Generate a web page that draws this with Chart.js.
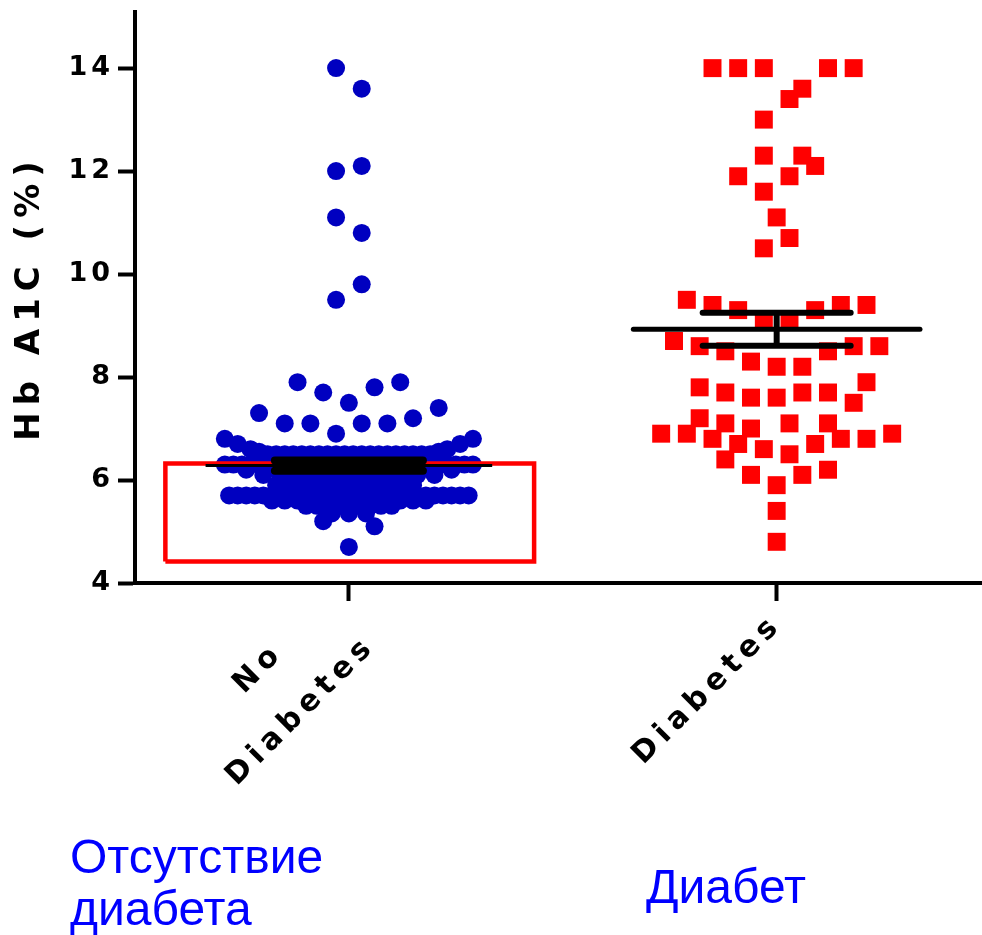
<!DOCTYPE html>
<html>
<head>
<meta charset="utf-8">
<script src="https://cdn.jsdelivr.net/npm/chart.js@4.4.1/dist/chart.umd.min.js"></script>
<style>
html,body{margin:0;padding:0;background:#fff;width:982px;height:935px;overflow:hidden}
#wrap{position:relative;width:982px;height:935px}
#c{position:absolute;left:0;top:0}
.cap{position:absolute;font-family:"Liberation Sans",Arial,sans-serif;font-size:48px;line-height:52px;color:#0000FF;white-space:nowrap}
</style>
</head>
<body>
<div id="wrap"><canvas id="c" width="982" height="935"></canvas></div>
<script>
// ---------- data ----------
const categories = [["No", "Diabetes"], ["Diabetes"]];
const categoryPositions = [1, 2];
const yTicks = [4, 6, 8, 10, 12, 14];
const yTitle = "Hb A1C (%)";
const captions = [["Отсутствие", "диабета"], ["Диабет"]];

// No diabetes: isolated points [offset from category, HbA1c]
const noDiabetesScattered = [
  [-0.03, 14.0], [0.03, 13.6], [-0.03, 12.0], [0.03, 12.1], [-0.03, 11.1], [0.03, 10.8], [0.03, 9.8], [-0.03, 9.5],
  [-0.12, 7.9], [-0.06, 7.7], [0, 7.5], [0.06, 7.8], [0.12, 7.9],
  [-0.21, 7.3], [-0.15, 7.1], [-0.09, 7.1], [-0.03, 6.9], [0.03, 7.1], [0.09, 7.1], [0.15, 7.2], [0.21, 7.4],
  [-0.29, 6.8], [0.29, 6.8], [-0.26, 6.7], [0.26, 6.7], [-0.23, 6.6], [0.23, 6.6], [-0.21, 6.55], [0.21, 6.55],
  [-0.06, 5.2], [0.06, 5.1], [0, 4.7]
];
// No diabetes: dense swarm rows [HbA1c, offsets]
const noDiabetesRows = [
  [6.5, [-0.19,-0.17,-0.15,-0.13,-0.11,-0.09,-0.07,-0.05,-0.03,-0.01,0.01,0.03,0.05,0.07,0.09,0.11,0.13,0.15,0.17,0.19]],
  [6.4, [-0.15,-0.12,-0.09,-0.06,-0.03,0,0.03,0.06,0.09,0.12,0.15]],
  [6.3, [-0.29,-0.27,-0.25,-0.23,-0.21,-0.19,-0.17,-0.15,-0.13,-0.11,-0.09,-0.07,-0.05,-0.03,-0.01,0.01,0.03,0.05,0.07,0.09,0.11,0.13,0.15,0.17,0.19,0.21,0.23,0.25,0.27,0.29]],
  [6.2, [-0.24,-0.2,-0.16,-0.12,-0.08,-0.04,0,0.04,0.08,0.12,0.16,0.2,0.24]],
  [6.1, [-0.2,-0.16,-0.12,-0.08,-0.04,0,0.04,0.08,0.12,0.16,0.2]],
  [6.0, [-0.15,-0.11,-0.07,-0.03,0.01,0.05,0.09,0.13]],
  [5.9, [-0.17,-0.13,-0.09,-0.05,-0.01,0.03,0.07,0.11,0.15]],
  [5.7, [-0.28,-0.26,-0.24,-0.22,-0.2,-0.18,-0.16,-0.14,-0.12,-0.1,-0.08,-0.06,-0.04,-0.02,0,0.02,0.04,0.06,0.08,0.1,0.12,0.14,0.16,0.18,0.2,0.22,0.24,0.26,0.28]],
  [5.6, [-0.18,-0.15,-0.12,-0.09,-0.06,-0.03,0,0.03,0.06,0.09,0.12,0.15,0.18]],
  [5.5, [-0.1,-0.075,-0.05,-0.025,0,0.025,0.05,0.075,0.1]],
  [5.35, [-0.04,0,0.04]]
];
// Diabetes points [offset from category, HbA1c]
const diabetesPoints = [
  [-0.15, 14], [-0.09, 14], [-0.03, 14], [0.12, 14], [0.18, 14], [0.06, 13.6], [0.03, 13.4], [-0.03, 13.0],
  [-0.03, 12.3], [0.06, 12.3], [0.09, 12.1], [-0.09, 11.9], [0.03, 11.9], [-0.03, 11.6], [0, 11.1], [0.03, 10.7], [-0.03, 10.5],
  [-0.21, 9.5], [-0.15, 9.4], [-0.09, 9.3], [-0.03, 9.1], [0.03, 9.1], [0.09, 9.3], [0.15, 9.4], [0.21, 9.4],
  [-0.24, 8.7], [-0.18, 8.6], [-0.12, 8.5], [0.12, 8.5], [0.18, 8.6], [0.24, 8.6], [-0.06, 8.3], [0, 8.2], [0.06, 8.2],
  [-0.18, 7.8], [-0.12, 7.7], [-0.06, 7.6], [0, 7.6], [0.06, 7.7], [0.12, 7.7], [0.21, 7.9], [0.18, 7.5],
  [-0.18, 7.2], [-0.12, 7.1], [-0.06, 7.0], [0.03, 7.1], [0.12, 7.1],
  [-0.27, 6.9], [-0.21, 6.9], [-0.15, 6.8], [-0.09, 6.7], [-0.03, 6.6], [0.03, 6.5], [0.09, 6.7], [0.15, 6.8], [0.21, 6.8], [0.27, 6.9],
  [-0.12, 6.4], [-0.06, 6.1], [0, 5.9], [0.06, 6.1], [0.12, 6.2], [0, 5.4], [0, 4.8]
];
// mean and SEM [mean, upper, lower]
const noDiabetesStats = [6.28, 6.38, 6.18];
const diabetesStats = [8.93, 9.25, 8.61];
// highlight box (x range in category units, y range)
const boxX = [0.571, 1.433];
const boxY = [4.42, 6.32];

// ---------- build ----------
const c0 = categoryPositions[0], c1 = categoryPositions[1];
const blueData = noDiabetesScattered.map(p => ({x: c0 + p[0], y: p[1]}));
noDiabetesRows.forEach(r => r[1].forEach(o => blueData.push({x: c0 + o, y: r[0]})));
const redData = diabetesPoints.map(p => ({x: c1 + p[0], y: p[1]}));

function seg(x1, y1, x2, y2, w, color, cap, order) {
  return {type: 'scatter', showLine: true, data: [{x: x1, y: y1}, {x: x2, y: y2}],
    borderColor: color, borderWidth: w, borderCapStyle: cap, pointRadius: 0, pointHoverRadius: 0,
    order: order, clip: false};
}
const MW = 0.335, SW = 0.173;
const datasets = [
  seg(c0 - MW, noDiabetesStats[0], c0 + MW, noDiabetesStats[0], 3, '#000', 'butt', 0),
  seg(c0 - SW, noDiabetesStats[1], c0 + SW, noDiabetesStats[1], 8, '#000', 'round', 0),
  seg(c0 - SW, noDiabetesStats[2], c0 + SW, noDiabetesStats[2], 8, '#000', 'round', 0),
  seg(c0, noDiabetesStats[2], c0, noDiabetesStats[1], 6, '#000', 'butt', 0),
  seg(c1 - MW, diabetesStats[0], c1 + MW, diabetesStats[0], 5, '#000', 'round', 0),
  seg(c1 - SW, diabetesStats[1], c1 + SW, diabetesStats[1], 6, '#000', 'round', 0),
  seg(c1 - SW, diabetesStats[2], c1 + SW, diabetesStats[2], 6, '#000', 'round', 0),
  seg(c1, diabetesStats[2], c1, diabetesStats[1], 6, '#000', 'butt', 0),
  {type: 'scatter', showLine: true, order: 1, clip: false,
    data: [{x: boxX[0], y: boxY[0]}, {x: boxX[1], y: boxY[0]}, {x: boxX[1], y: boxY[1]}, {x: boxX[0], y: boxY[1]}, {x: boxX[0], y: boxY[0]}],
    borderColor: '#FF0000', borderWidth: 4.5, borderJoinStyle: 'miter', pointRadius: 0, pointHoverRadius: 0},
  {type: 'scatter', label: 'No Diabetes', data: blueData, order: 2, clip: false,
    pointStyle: 'circle', pointRadius: 9, pointHoverRadius: 9, pointBorderWidth: 0,
    pointBackgroundColor: '#0000C0', borderColor: '#0000C0', backgroundColor: '#0000C0'},
  {type: 'scatter', label: 'Diabetes', data: redData, order: 2, clip: false,
    pointStyle: 'rect', pointRadius: 12.7, pointHoverRadius: 12.7, pointBorderWidth: 0,
    pointBackgroundColor: '#FF0000', borderColor: '#FF0000', backgroundColor: '#FF0000'}
];

const axisText = {
  id: 'axisText',
  beforeDraw(chart) { chart.ctx.letterSpacing = '7px'; },          // y title
  afterDatasetsDraw(chart) { chart.ctx.letterSpacing = '4px'; },   // y tick labels (z = 1)
  afterDraw(chart) {
    const ctx = chart.ctx, xs = chart.scales.x, bottom = chart.chartArea.bottom;
    ctx.save();
    ctx.letterSpacing = '6px';
    ctx.font = 'bold 30px "DejaVu Sans"';
    ctx.fillStyle = '#000';
    ctx.textAlign = 'center';
    ctx.textBaseline = 'middle';
    categories.forEach((lines, i) => {
      const px = xs.getPixelForValue(categoryPositions[i]);
      ctx.save();
      ctx.translate(px - 71, bottom + 109);
      ctx.rotate(-Math.PI / 4);
      lines.forEach((t, k) => ctx.fillText(t, 3, (k - (lines.length - 1) / 2) * 60));
      ctx.restore();
    });
    ctx.restore();
    ctx.letterSpacing = '0px';
  }
};

const tickGrid = (len) => ({display: true, drawOnChartArea: false, drawTicks: true, tickLength: len, tickWidth: 4, tickColor: '#000'});

new Chart(document.getElementById('c'), {
  type: 'scatter',
  data: {datasets},
  plugins: [axisText],
  options: {
    responsive: false, animation: false, devicePixelRatio: 1,
    events: [],
    layout: {autoPadding: false, padding: {left: 0, right: 0, top: 12, bottom: 0}},
    plugins: {legend: {display: false}, tooltip: {enabled: false}},
    scales: {
      x: {type: 'linear', min: 0.5, max: 2.48,
        afterBuildTicks: s => { s.ticks = categoryPositions.map(v => ({value: v})); },
        afterFit: s => { s.height = 352; s.paddingLeft = 0; s.paddingRight = 0; },
        ticks: {autoSkip: false, maxRotation: 0, callback: () => ''},
        grid: tickGrid(18),
        border: {display: true, width: 4, color: '#000'}},
      y: {type: 'linear', min: 4, max: 15.09,
        afterBuildTicks: s => { s.ticks = yTicks.map(v => ({value: v})); },
        afterFit: s => { s.width = 135; s.paddingTop = 0; s.paddingBottom = 0; },
        ticks: {z: 1, autoSkip: false, color: '#000', padding: 4, font: {family: '"DejaVu Sans"', size: 27, weight: 'bold'}},
        grid: tickGrid(17),
        border: {display: true, width: 4, color: '#000'},
        title: {display: true, text: yTitle, color: '#000', padding: {top: 10, bottom: 0},
          font: {family: '"DejaVu Sans"', size: 34, weight: 'bold'}}}
    }
  }
});

// captions below the chart
const wrap = document.getElementById('wrap');
const capPos = [[70, 831], [646, 861]];
captions.forEach((lines, i) => {
  const d = document.createElement('div');
  d.className = 'cap';
  d.style.left = capPos[i][0] + 'px';
  d.style.top = capPos[i][1] + 'px';
  lines.forEach((t, k) => { if (k) d.appendChild(document.createElement('br')); d.appendChild(document.createTextNode(t)); });
  wrap.appendChild(d);
});
</script>
</body>
</html>
